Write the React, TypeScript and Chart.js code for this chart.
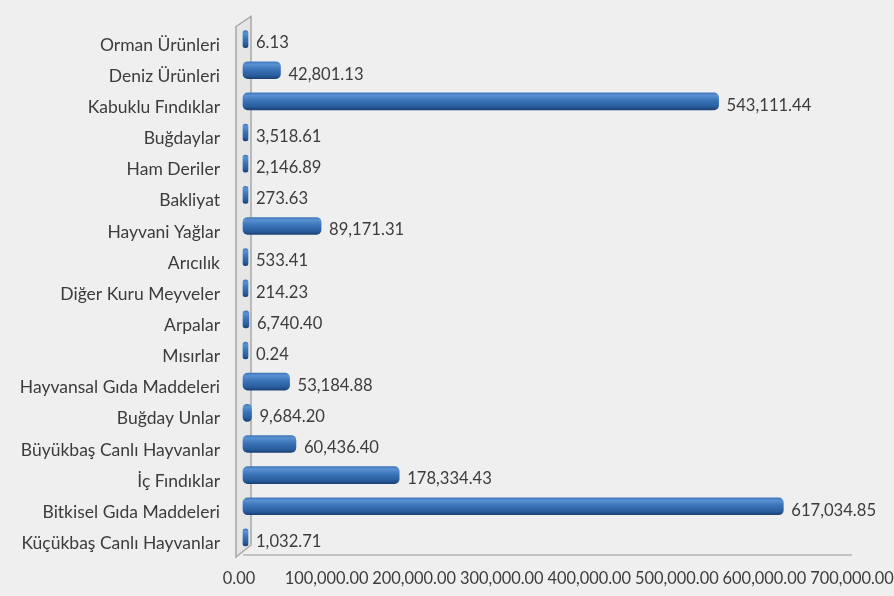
import React, { useEffect, useRef } from "react";
import { Chart, registerables } from "chart.js";

Chart.register(...registerables);

const categories = [
  "Orman Ürünleri",
  "Deniz Ürünleri",
  "Kabuklu Fındıklar",
  "Buğdaylar",
  "Ham Deriler",
  "Bakliyat",
  "Hayvani Yağlar",
  "Arıcılık",
  "Diğer Kuru Meyveler",
  "Arpalar",
  "Mısırlar",
  "Hayvansal Gıda Maddeleri",
  "Buğday Unlar",
  "Büyükbaş Canlı Hayvanlar",
  "İç Fındıklar",
  "Bitkisel Gıda Maddeleri",
  "Küçükbaş Canlı Hayvanlar",
];

const values = [
  6.13, 42801.13, 543111.44, 3518.61, 2146.89, 273.63, 89171.31, 533.41, 214.23,
  6740.4, 0.24, 53184.88, 9684.2, 60436.4, 178334.43, 617034.85, 1032.71,
];

const xTickLabels = [
  "0.00",
  "100,000.00",
  "200,000.00",
  "300,000.00",
  "400,000.00",
  "500,000.00",
  "600,000.00",
  "700,000.00",
];

const X_MIN = 0;
const X_MAX = 700000;
const X_STEP = 100000;

const FONT = "Lato, 'Noto Sans', sans-serif";
const TEXT_COLOR = "#3c3c3c";
const SHIFT_X = 4;
const SHIFT_Y = -6;
const BAR_THICK = 17;

function fmt(v: number) {
  return v.toLocaleString("en-US", { minimumFractionDigits: 2, maximumFractionDigits: 2 });
}

const decorPlugin = {
  id: "decor",
  beforeDraw(chart: any) {
    const { ctx, width, height } = chart;
    ctx.save();
    ctx.fillStyle = "#efefef";
    ctx.fillRect(0, 0, width, height);
    ctx.restore();
  },
  beforeDatasetsDraw(chart: any) {
    const { ctx, chartArea } = chart;
    const l = chartArea.left;
    const t = chartArea.top;
    const b = chartArea.bottom;
    const r = chartArea.right;
    ctx.save();
    // 3D side wall
    ctx.beginPath();
    ctx.moveTo(l - 3, t - 3);
    ctx.lineTo(l + 12, t - 13);
    ctx.lineTo(l + 12, b - 14);
    ctx.lineTo(l - 3, b - 2);
    ctx.closePath();
    ctx.fillStyle = "#e6e6e6";
    ctx.fill();
    ctx.strokeStyle = "#a8a8a8";
    ctx.lineWidth = 1.5;
    ctx.stroke();
    // floor line
    ctx.beginPath();
    ctx.moveTo(l + 4, b - 4);
    ctx.lineTo(r, b - 4);
    ctx.strokeStyle = "#b4b4b4";
    ctx.lineWidth = 1.5;
    ctx.stroke();
    ctx.restore();
    ctx.save();
    ctx.translate(SHIFT_X, SHIFT_Y);
  },
  afterDatasetsDraw(chart: any) {
    const { ctx } = chart;
    ctx.restore();
    const meta = chart.getDatasetMeta(0);
    ctx.save();
    ctx.fillStyle = TEXT_COLOR;
    ctx.font = `16.6px ${FONT}`;
    ctx.textAlign = "left";
    ctx.textBaseline = "middle";
    meta.data.forEach((el: any, i: number) => {
      ctx.fillText(fmt(values[i]), el.x + SHIFT_X + 8, el.y - 2);
    });
    ctx.restore();
  },
};

export default function App() {
  const ref = useRef<HTMLCanvasElement | null>(null);
  useEffect(() => {
    if (!ref.current) return;
    const chart = new Chart(ref.current, {
      type: "bar",
      data: {
        labels: categories,
        datasets: [
          {
            data: values,
            barThickness: BAR_THICK,
            minBarLength: 5,
            borderRadius: 5,
            borderSkipped: false,
            borderWidth: 0,
            clip: false,
            backgroundColor: (c: any) => {
              const ch = c.chart;
              if (!ch.chartArea || !ch.scales.y) return "#2e6bb0";
              const yc = ch.scales.y.getPixelForValue(c.dataIndex);
              const g = ch.ctx.createLinearGradient(0, yc - BAR_THICK / 2, 0, yc + BAR_THICK / 2);
              g.addColorStop(0, "#3f78bb");
              g.addColorStop(0.15, "#5a91d2");
              g.addColorStop(0.45, "#3a74b8");
              g.addColorStop(0.8, "#2a5e9e");
              g.addColorStop(1, "#1b4275");
              return g;
            },
          } as any,
        ],
      },
      options: {
        indexAxis: "y",
        animation: false,
        responsive: true,
        maintainAspectRatio: false,
        layout: { padding: { top: 25, left: 0, right: 42, bottom: 0 } },
        plugins: {
          legend: { display: false },
          tooltip: { enabled: false },
        },
        scales: {
          x: {
            type: "linear",
            min: X_MIN,
            max: X_MAX,
            grid: { display: false, drawTicks: false },
            border: { display: false },
            ticks: {
              stepSize: X_STEP,
              autoSkip: false,
              maxRotation: 0,
              padding: 10,
              color: TEXT_COLOR,
              font: { family: FONT, size: 16.4 },
              callback: (_v: any, i: number) => xTickLabels[i],
            },
            afterFit: (s: any) => {
              s.height = 37;
              s.paddingRight = 0;
              s.paddingLeft = 0;
            },
          },
          y: {
            type: "category",
            grid: { display: false, drawTicks: false },
            border: { display: false },
            ticks: {
              padding: 19,
              autoSkip: false,
              color: TEXT_COLOR,
              font: { family: FONT, size: 17.5 },
            },
            afterFit: (s: any) => {
              s.width = 239;
            },
          },
        },
      } as any,
      plugins: [decorPlugin],
    });
    return () => chart.destroy();
  }, []);
  return (
    <div style={{ position: "absolute", left: 0, top: 0, width: 894, height: 596, background: "#efefef" }}>
      <canvas ref={ref} />
    </div>
  );
}
